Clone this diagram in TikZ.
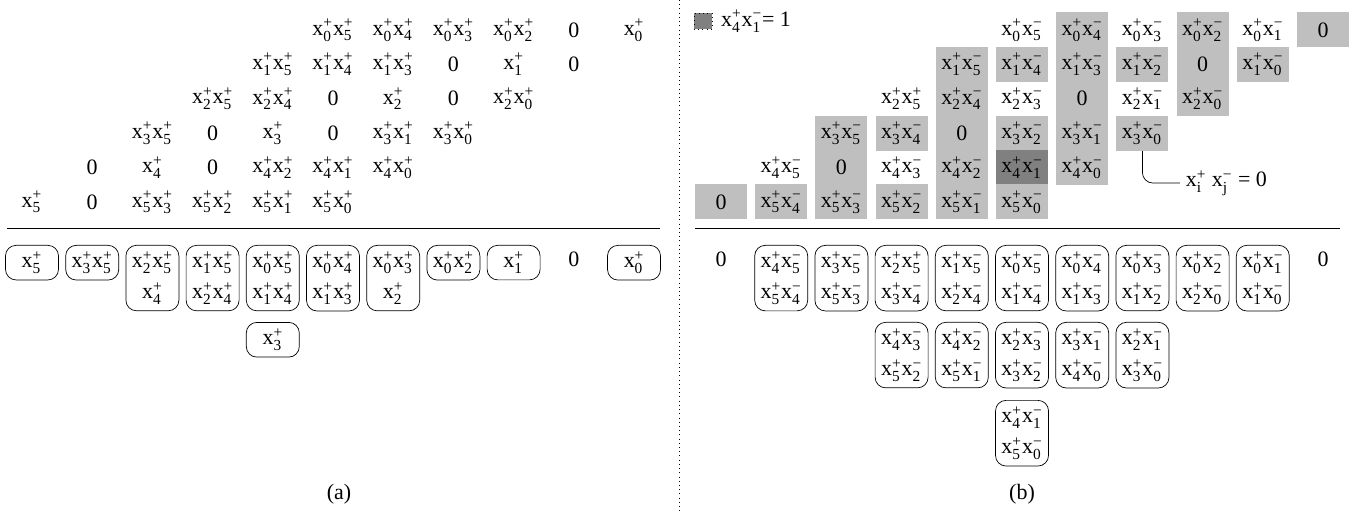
\documentclass[tikz,border=0pt]{standalone}
\usepackage{amsmath}
\usepackage{fontspec}
\setmainfont{Liberation Serif}
\usetikzlibrary{positioning}

\newcommand{\xP}[1]{x$^{\text{+}}_{\text{#1}}$}
\newcommand{\xM}[1]{x$^{\text{\textminus}}_{\text{#1}}$}

\tikzstyle{cell} = [rectangle, minimum width=1.04cm, minimum height=0.70cm, inner sep=0pt]
\tikzstyle{gcell} = [cell, fill=gray!50]
\tikzstyle{dcell} = [cell, fill=gray]
\tikzstyle{term} = [rectangle, rounded corners=6pt, draw=black, minimum width=1.06cm, minimum height=0.68cm, inner xsep=1pt, inner ysep=3.5pt, align=center, anchor=north, font=\fontsize{12.5}{17.6}\selectfont]

\begin{document}
\begin{tikzpicture}[x=1.204cm, y=-0.688cm, font=\fontsize{12.5}{14}\selectfont]
        \useasboundingbox (-0.5316,-0.872) rectangle (21.91,14.012);

        % (a) products of positive parts
        \node[cell] (a-1-5) at (5,0) {\xP0\xP5};
        \node[cell] (a-1-6) at (6,0) {\xP0\xP4};
        \node[cell] (a-1-7) at (7,0) {\xP0\xP3};
        \node[cell] (a-1-8) at (8,0) {\xP0\xP2};
        \node[cell] (a-1-9) at (9,0) {0};
        \node[cell] (a-1-10) at (10,0) {\xP0};
        \node[cell] (a-2-4) at (4,1) {\xP1\xP5};
        \node[cell] (a-2-5) at (5,1) {\xP1\xP4};
        \node[cell] (a-2-6) at (6,1) {\xP1\xP3};
        \node[cell] (a-2-7) at (7,1) {0};
        \node[cell] (a-2-8) at (8,1) {\xP1};
        \node[cell] (a-2-9) at (9,1) {0};
        \node[cell] (a-3-3) at (3,2) {\xP2\xP5};
        \node[cell] (a-3-4) at (4,2) {\xP2\xP4};
        \node[cell] (a-3-5) at (5,2) {0};
        \node[cell] (a-3-6) at (6,2) {\xP2};
        \node[cell] (a-3-7) at (7,2) {0};
        \node[cell] (a-3-8) at (8,2) {\xP2\xP0};
        \node[cell] (a-4-2) at (2,3) {\xP3\xP5};
        \node[cell] (a-4-3) at (3,3) {0};
        \node[cell] (a-4-4) at (4,3) {\xP3};
        \node[cell] (a-4-5) at (5,3) {0};
        \node[cell] (a-4-6) at (6,3) {\xP3\xP1};
        \node[cell] (a-4-7) at (7,3) {\xP3\xP0};
        \node[cell] (a-5-1) at (1,4) {0};
        \node[cell] (a-5-2) at (2,4) {\xP4};
        \node[cell] (a-5-3) at (3,4) {0};
        \node[cell] (a-5-4) at (4,4) {\xP4\xP2};
        \node[cell] (a-5-5) at (5,4) {\xP4\xP1};
        \node[cell] (a-5-6) at (6,4) {\xP4\xP0};
        \node[cell] (a-6-0) at (0,5) {\xP5};
        \node[cell] (a-6-1) at (1,5) {0};
        \node[cell] (a-6-2) at (2,5) {\xP5\xP3};
        \node[cell] (a-6-3) at (3,5) {\xP5\xP2};
        \node[cell] (a-6-4) at (4,5) {\xP5\xP1};
        \node[cell] (a-6-5) at (5,5) {\xP5\xP0};

        \draw (-0.415,5.756) -- (10.43,5.756);

        \node[term] (ab-0) at (0,6.25) {\xP5};
        \node[term] (ab-1) at (1,6.25) {\xP3\xP5};
        \node[term] (ab-2) at (2,6.25) {\xP2\xP5\\\xP4};
        \node[term] (ab-3) at (3,6.25) {\xP1\xP5\\\xP2\xP4};
        \node[term] (ab-4) at (4,6.25) {\xP0\xP5\\\xP1\xP4};
        \node[term] (ab-5) at (5,6.25) {\xP0\xP4\\\xP1\xP3};
        \node[term] (ab-6) at (6,6.25) {\xP0\xP3\\\xP2};
        \node[term] (ab-7) at (7,6.25) {\xP0\xP2};
        \node[term] (ab-8) at (8,6.25) {\xP1};
        \node (ab-9) at (9,6.68) {0};
        \node[term] (ab-10) at (10,6.25) {\xP0};
        \node[term] (ab-4b) at (4,8.49) {\xP3};

        \node (capa) at (5.1,13.49) {(a)};

        \draw[dotted] (10.748,-0.872) -- (10.748,14.012);

        % (b) mixed products
        \begin{scope}[xshift=13.78cm]
        \node[cell] (b-1-5) at (5,0) {\xP0\xM5};
        \node[gcell] (b-1-6) at (6,0) {\xP0\xM4};
        \node[cell] (b-1-7) at (7,0) {\xP0\xM3};
        \node[gcell] (b-1-8) at (8,0) {\xP0\xM2};
        \node[cell] (b-1-9) at (9,0) {\xP0\xM1};
        \node[gcell] (b-1-10) at (10,0) {0};
        \node[gcell] (b-2-4) at (4,1) {\xP1\xM5};
        \node[gcell] (b-2-5) at (5,1) {\xP1\xM4};
        \node[gcell] (b-2-6) at (6,1) {\xP1\xM3};
        \node[gcell] (b-2-7) at (7,1) {\xP1\xM2};
        \node[gcell] (b-2-8) at (8,1) {0};
        \node[gcell] (b-2-9) at (9,1) {\xP1\xM0};
        \node[cell] (b-3-3) at (3,2) {\xP2\xP5};
        \node[gcell] (b-3-4) at (4,2) {\xP2\xM4};
        \node[cell] (b-3-5) at (5,2) {\xP2\xM3};
        \node[gcell] (b-3-6) at (6,2) {0};
        \node[cell] (b-3-7) at (7,2) {\xP2\xM1};
        \node[gcell] (b-3-8) at (8,2) {\xP2\xM0};
        \node[gcell] (b-4-2) at (2,3) {\xP3\xM5};
        \node[gcell] (b-4-3) at (3,3) {\xP3\xM4};
        \node[gcell] (b-4-4) at (4,3) {0};
        \node[gcell] (b-4-5) at (5,3) {\xP3\xM2};
        \node[gcell] (b-4-6) at (6,3) {\xP3\xM1};
        \node[gcell] (b-4-7) at (7,3) {\xP3\xM0};
        \node[cell] (b-5-1) at (1,4) {\xP4\xM5};
        \node[gcell] (b-5-2) at (2,4) {0};
        \node[cell] (b-5-3) at (3,4) {\xP4\xM3};
        \node[gcell] (b-5-4) at (4,4) {\xP4\xM2};
        \node[dcell] (b-5-5) at (5,4) {\xP4\xM1};
        \node[gcell] (b-5-6) at (6,4) {\xP4\xM0};
        \node[gcell] (b-6-0) at (0,5) {0};
        \node[gcell] (b-6-1) at (1,5) {\xP5\xM4};
        \node[gcell] (b-6-2) at (2,5) {\xP5\xM3};
        \node[gcell] (b-6-3) at (3,5) {\xP5\xM2};
        \node[gcell] (b-6-4) at (4,5) {\xP5\xM1};
        \node[gcell] (b-6-5) at (5,5) {\xP5\xM0};

        \node[draw, dotted, fill=gray, minimum width=0.36cm, minimum height=0.32cm, inner sep=0pt] (leg) at (-0.3,-0.26) {};
        \node[right=0.05cm of leg] (legtxt) {\xP4\xM1= 1};

        \node[anchor=west] (note) at (7.62,4.45) {\xP{i} \xM{j} = 0};
        \draw[rounded corners=6pt] (b-4-7.south) |- (note.west);

        \draw (-0.432,5.756) -- (10.28,5.756);

        \node (bb-0) at (0,6.68) {0};
        \node[term] (bb-1) at (1,6.25) {\xP4\xM5\\\xP5\xM4};
        \node[term] (bb-2) at (2,6.25) {\xP3\xM5\\\xP5\xM3};
        \node[term] (bb-3) at (3,6.25) {\xP2\xP5\\\xP3\xM4};
        \node[term] (bb-4) at (4,6.25) {\xP1\xM5\\\xP2\xM4};
        \node[term] (bb-5) at (5,6.25) {\xP0\xM5\\\xP1\xM4};
        \node[term] (bb-6) at (6,6.25) {\xP0\xM4\\\xP1\xM3};
        \node[term] (bb-7) at (7,6.25) {\xP0\xM3\\\xP1\xM2};
        \node[term] (bb-8) at (8,6.25) {\xP0\xM2\\\xP2\xM0};
        \node[term] (bb-9) at (9,6.25) {\xP0\xM1\\\xP1\xM0};
        \node (bb-10) at (10,6.68) {0};
        \node[term] (bb-3b) at (3,8.488) {\xP4\xM3\\\xP5\xM2};
        \node[term] (bb-4b) at (4,8.488) {\xP4\xM2\\\xP5\xM1};
        \node[term] (bb-5b) at (5,8.488) {\xP2\xM3\\\xP3\xM2};
        \node[term] (bb-6b) at (6,8.488) {\xP3\xM1\\\xP4\xM0};
        \node[term] (bb-7b) at (7,8.488) {\xP2\xM1\\\xP3\xM0};
        \node[term] (bb-5c) at (5,10.756) {\xP4\xM1\\\xP5\xM0};

        \node (capb) at (5,13.49) {(b)};
        \end{scope}
\end{tikzpicture}
\end{document}
